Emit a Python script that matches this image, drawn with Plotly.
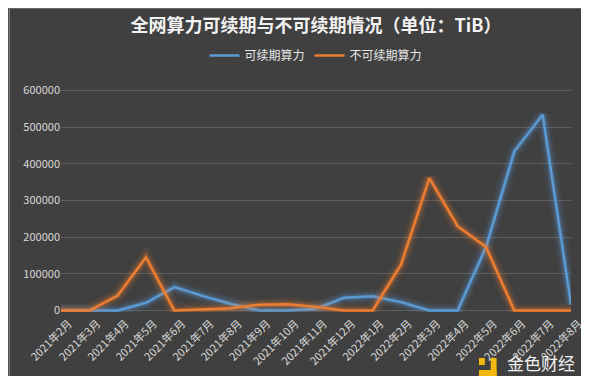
import plotly.graph_objects as go

months = ["2021年2月", "2021年3月", "2021年4月", "2021年5月", "2021年6月", "2021年7月",
          "2021年8月", "2021年9月", "2021年10月", "2021年11月", "2021年12月", "2022年1月",
          "2022年2月", "2022年3月", "2022年4月", "2022年5月", "2022年6月", "2022年7月", "2022年8月"]
renewable = [0, 0, 0, 21000, 64000, 40000, 18000, 0, 0, 5000, 35000, 39000,
             23000, 0, 0, 173000, 434000, 534000, 16000]
non_renewable = [0, 0, 41000, 145000, 0, 3000, 6000, 16000, 17000, 10000, 0, 0,
                 125000, 361000, 230000, 173000, 0, 0, 0]
y_ticks = [0, 100000, 200000, 300000, 400000, 500000, 600000]

BLUE = "#5B9BD5"
ORANGE = "#ED7D31"
BG = "#404040"
GOLD = "#F0B90B"

fig = go.Figure()

def add_series(vals, color, name):
    for w, op in [(14, 0.07), (9, 0.12), (5.5, 0.22)]:
        fig.add_trace(go.Scatter(x=months, y=vals, mode="lines", showlegend=False,
                                 hoverinfo="skip", opacity=op,
                                 line=dict(color=color, width=w)))
    fig.add_trace(go.Scatter(x=months, y=vals, mode="lines", name=name,
                             line=dict(color=color, width=2.5)))

add_series(renewable, BLUE, "可续期算力")
add_series(non_renewable, ORANGE, "不可续期算力")

def rect(x0, x1, y0, y1):
    return dict(type="rect", xref="paper", yref="paper", x0=x0, x1=x1, y0=y0, y1=y1,
                fillcolor=GOLD, line=dict(width=0), layer="above")

fig.update_layout(
    width=589, height=376,
    paper_bgcolor=BG, plot_bgcolor=BG,
    margin=dict(l=53, r=15, t=81, b=72),
    font=dict(family="Noto Sans CJK SC", color="#D9D9D9", size=11),
    title=dict(text="<b>全网算力可续期与不可续期情况（单位：TiB）</b>",
               x=0.5, xref="paper", y=0.952, yanchor="middle",
               font=dict(family="Noto Sans CJK SC", size=18, color="#F2F2F2")),
    legend=dict(orientation="h", x=0.5, xanchor="center", y=1.15, yanchor="middle",
                font=dict(size=12, color="#E6E6E6"), bgcolor="rgba(0,0,0,0)",
                itemwidth=30),
    xaxis=dict(type="category", tickangle=-45, showgrid=False, zeroline=False,
               showline=False, ticks="", ticklabelshift=8, ticklabelstandoff=2,
               tickfont=dict(size=11, color="#D9D9D9")),
    yaxis=dict(range=[-4000, 604000], tickvals=y_ticks, tickformat="d", showgrid=True,
               gridcolor="#5E5E5E", gridwidth=1, zeroline=False, showline=False,
               ticks="", tickfont=dict(size=11, color="#D9D9D9")),
    shapes=[dict(type="rect", xref="paper", yref="paper",
                 x0=-0.1014, x1=1.0276, y0=-0.3206, y1=1.3632,
                 line=dict(color="#8C8C8C", width=1)),
            rect(0.8426, 0.8541, -0.2870, -0.2063),
            rect(0.8196, 0.8541, -0.2870, -0.2601),
            rect(0.8196, 0.8311, -0.2377, -0.2063)],
    annotations=[
        dict(text="金色财经", xref="paper", yref="paper", x=1.0115, y=-0.225,
             xanchor="right", yanchor="middle", showarrow=False,
             font=dict(size=17, color="#F0F0F0", family="Noto Sans CJK SC")),
    ],
)

fig.write_html("out.html")
